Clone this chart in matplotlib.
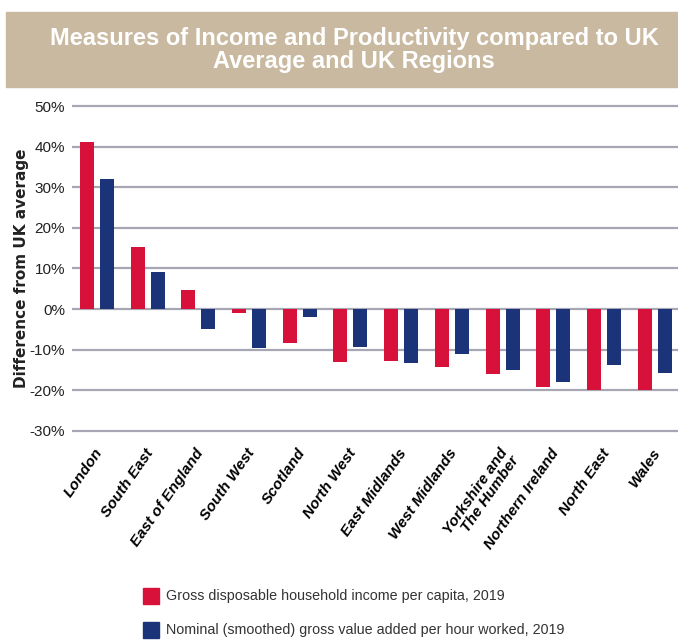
import numpy as np
import matplotlib.pyplot as plt
from matplotlib.patches import Rectangle

regions = ["London", "South East", "East of England", "South West", "Scotland",
           "North West", "East Midlands", "West Midlands", "Yorkshire and\nThe Humber",
           "Northern Ireland", "North East", "Wales"]
income = [41.2, 15.3, 4.7, -1.0, -8.3, -13.1, -12.9, -14.4, -16.0, -19.1, -20.0, -20.0]
productivity = [32.0, 9.2, -4.8, -9.5, -2.0, -9.4, -13.4, -11.0, -14.9, -18.1, -13.9, -15.8]
yticks = [50, 40, 30, 20, 10, 0, -10, -20, -30]
legend_labels = ["Gross disposable household income per capita, 2019",
                 "Nominal (smoothed) gross value added per hour worked, 2019"]

RED = "#d8113a"
BLUE = "#1b3379"
GRID = "#a6a6b4"
FONT = "Liberation Sans"

fig = plt.figure(figsize=(6.78, 6.43), dpi=100)

# title banner
fig.patches.append(Rectangle((6 / 678, 1 - 87 / 643), 672 / 678, 75 / 643,
                             transform=fig.transFigure, color="#c9b9a0", zorder=0))
fig.text(354 / 678, 1 - 50 / 643,
         "Measures of Income and Productivity compared to UK\nAverage and UK Regions",
         ha="center", va="center", color="white", fontsize=17, fontweight="bold",
         family=FONT, linespacing=1.05)

ax = fig.add_axes([72 / 678, 0.3237, 1 - 72 / 678, 0.5177])
x = np.arange(len(regions))
w = 0.276
off = 0.197
ax.bar(x - off, income, w, color=RED, zorder=3)
ax.bar(x + off, productivity, w, color=BLUE, zorder=3)

ax.set_xlim(-0.49, 11.46)
ax.set_ylim(-31, 51)
ax.set_yticks(yticks)
ax.set_yticklabels([f"{v}%" for v in yticks], family=FONT, fontsize=11, color="#222222")
for v in yticks:
    ax.axhline(v, color=GRID, lw=1.6, zorder=1)
ax.tick_params(axis="y", length=0, pad=5)
ax.tick_params(axis="x", length=0)
for s in ax.spines.values():
    s.set_visible(False)

ax.set_xticks(x - 0.06)
ax.set_xticklabels(regions, rotation=55, ha="right", va="top", rotation_mode="anchor",
                   fontsize=11, style="italic", fontweight="bold", family=FONT,
                   linespacing=0.95)
ax.tick_params(axis="x", pad=8)

fig.text(22 / 678, 1 - 268 / 643, "Difference from UK average", rotation=90,
         ha="center", va="center", fontsize=11, fontweight="bold", color="#222222",
         family="DejaVu Sans")

# legend
for i, (lab, c) in enumerate(zip(legend_labels, [RED, BLUE])):
    yc = 596 + 34 * i
    fig.patches.append(Rectangle((143 / 678, 1 - (yc + 8) / 643), 16 / 678, 16 / 643,
                                 transform=fig.transFigure, color=c))
    fig.text(166 / 678, 1 - yc / 643, lab, ha="left", va="center", fontsize=10.3,
             family=FONT, color="#333333")

fig.savefig("out.png", dpi=100)
